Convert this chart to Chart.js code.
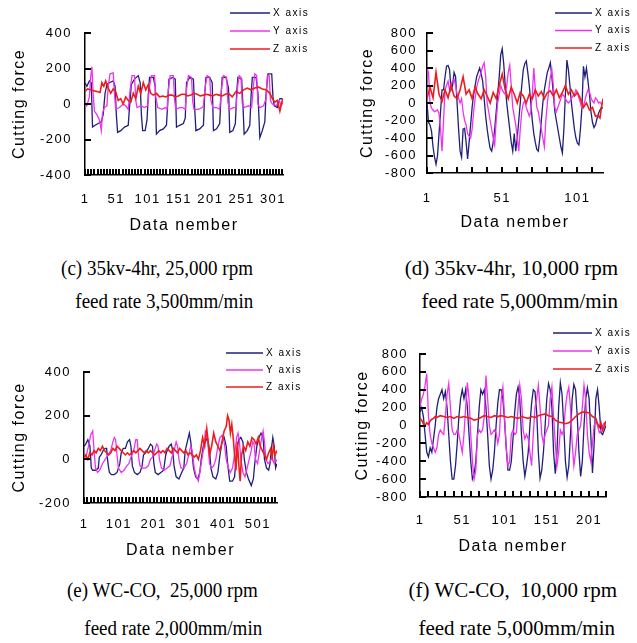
<!DOCTYPE html>
<html>
<head>
<meta charset="utf-8">
<script src="https://cdn.jsdelivr.net/npm/chart.js@4.4.0/dist/chart.umd.min.js"></script>
<style>
  body { margin: 0; background: #fff; width: 637px; height: 643px; position: relative; overflow: hidden; }
  canvas { position: absolute; }
  .cap { position: absolute; font-family: "Liberation Serif", "Times New Roman", serif; font-size: 20px; line-height: 22px; color: #000; white-space: pre; transform-origin: right center; }
  .l { transform: scaleX(0.95); }
  .r { font-size: 21px; }
</style>
</head>
<body>
<canvas id="chart-c" width="318" height="240" style="left:0;top:0"></canvas>
<canvas id="chart-d" width="319" height="240" style="left:318px;top:0"></canvas>
<canvas id="chart-e" width="318" height="250" style="left:0;top:320px"></canvas>
<canvas id="chart-f" width="319" height="250" style="left:318px;top:320px"></canvas>

<div class="cap l" style="right:384px;top:257px">(c) 35kv-4hr, 25,000 rpm</div>
<div class="cap l" style="right:384px;top:290px">feed rate 3,500mm/min</div>
<div class="cap r" style="right:19px;top:257px">(d) 35kv-4hr, 10,000 rpm</div>
<div class="cap r" style="right:19px;top:290px">feed rate 5,000mm/min</div>
<div class="cap l" style="right:379px;top:579px">(e) WC-CO,  25,000 rpm</div>
<div class="cap l" style="right:375px;top:617px">feed rate 2,000mm/min</div>
<div class="cap r" style="right:20px;top:579px">(f) WC-CO,  10,000 rpm</div>
<div class="cap r" style="right:22px;top:617px">feed rate 5,000mm/min</div>

<script>
// series labels
const SERIES = ['X axis', 'Y axis', 'Z axis'];

// (c) 35kv-4hr, 25,000 rpm  -- [data number, cutting force]
const C_N = 317;
const C_XLABELS = [1, 51, 101, 151, 201, 251, 301];
const C_X = [[1,120],[4,100],[8,130],[11,120],[13,-130],[17,-120],[22,-110],[27,-100],[30,-60],[33,60],[36,110],[40,120],[46,130],[49,100],[51,-60],[53,-160],[58,-150],[64,-130],[70,-120],[72,-20],[75,110],[80,140],[86,160],[89,120],[91,-60],[93,-150],[97,-150],[100,-90],[102,50],[104,150],[110,150],[113,100],[115,-170],[120,-150],[126,-140],[131,-120],[133,0],[135,140],[141,150],[145,140],[147,-130],[152,-120],[158,-110],[161,-80],[163,120],[168,150],[174,140],[176,-20],[178,-150],[184,-140],[190,-120],[192,50],[194,150],[200,150],[204,120],[206,-150],[211,-140],[216,-110],[218,40],[220,150],[226,150],[230,90],[232,-160],[237,-150],[241,-110],[243,60],[245,150],[251,140],[253,0],[255,-170],[260,-150],[264,-120],[266,40],[268,150],[274,150],[277,60],[280,-190],[284,-150],[288,-100],[290,60],[293,170],[299,170],[301,40],[303,-10],[308,-20],[312,30],[315,30],[317,20]];
const C_Y = [[1,-20],[4,-10],[8,40],[10,150],[12,210],[14,60],[16,-40],[20,-60],[24,-90],[27,-150],[29,-50],[32,-20],[36,-10],[38,100],[41,170],[46,175],[48,60],[50,-30],[56,-20],[62,0],[66,-10],[70,-30],[73,80],[76,160],[80,160],[82,20],[84,-20],[90,-10],[96,-20],[101,-10],[104,100],[107,160],[112,160],[114,40],[117,-20],[124,-30],[129,-20],[132,-30],[134,80],[137,160],[142,160],[144,20],[146,-30],[152,-20],[157,-20],[161,-30],[163,80],[166,160],[171,150],[173,10],[175,-30],[182,-30],[188,-20],[190,-10],[193,100],[196,160],[200,150],[202,20],[205,-20],[211,-20],[216,-30],[219,90],[222,160],[227,150],[229,10],[232,-30],[238,-20],[242,-20],[245,110],[247,160],[250,150],[252,0],[255,-20],[262,-10],[267,-20],[270,110],[272,170],[275,160],[277,0],[280,-20],[286,-10],[290,30],[292,160],[295,160],[297,20],[300,0],[306,-10],[311,20],[314,-10],[317,10]];
const C_Z = [[1,70],[5,85],[10,80],[15,75],[20,70],[25,65],[28,120],[31,100],[34,130],[38,90],[42,60],[46,85],[50,70],[54,20],[58,30],[62,0],[66,40],[70,20],[74,10],[78,60],[82,30],[86,100],[90,60],[94,120],[98,80],[102,110],[106,60],[110,50],[115,60],[120,40],[125,45],[130,40],[135,50],[140,50],[145,40],[150,45],[155,55],[160,55],[165,45],[170,50],[175,60],[180,55],[185,45],[190,50],[195,55],[200,50],[205,45],[210,55],[215,50],[220,45],[225,55],[230,60],[236,40],[242,70],[248,60],[254,80],[260,90],[266,80],[272,90],[278,95],[284,85],[290,80],[296,60],[300,30],[304,10],[308,20],[312,-40],[315,10],[317,30]];

// (d) 35kv-4hr, 10,000 rpm
const D_N = 118;
const D_XLABELS = [1, 51, 101];
const D_X = [[1,0],[2,-220],[3,-250],[4,-320],[5,-500],[6,-620],[7,-700],[8,-600],[9,-350],[10,-100],[11,150],[12,150],[13,300],[14,420],[15,430],[16,380],[17,150],[18,200],[19,350],[20,300],[21,0],[22,-300],[23,-550],[24,-620],[25,-300],[26,-290],[27,-450],[28,-640],[29,-450],[30,-250],[31,-50],[32,100],[33,200],[34,300],[35,350],[36,400],[37,330],[38,250],[39,50],[40,-150],[41,-300],[42,-420],[43,-520],[44,-550],[45,-450],[46,-300],[47,-100],[48,100],[49,300],[50,550],[51,620],[52,450],[53,200],[54,0],[55,-150],[56,-300],[57,-450],[58,-550],[59,-350],[60,-550],[61,-400],[62,-200],[63,0],[64,200],[65,380],[66,450],[67,480],[68,350],[69,200],[70,0],[71,-200],[72,-350],[73,-450],[74,-530],[75,-550],[76,-400],[77,-200],[78,0],[79,150],[80,250],[81,350],[82,400],[83,460],[84,300],[85,100],[86,-100],[87,-200],[88,-300],[89,-400],[90,-500],[91,-570],[92,-300],[93,100],[94,490],[95,380],[96,200],[97,0],[98,-150],[99,-300],[100,-400],[101,-460],[102,-480],[103,-300],[104,-50],[105,420],[106,300],[107,400],[108,250],[109,100],[110,-100],[111,-220],[112,-280],[113,-250],[114,-180],[115,-120],[116,-80],[117,-50],[118,-60]];
const D_Y = [[1,400],[2,350],[3,0],[4,-60],[5,-80],[6,-100],[7,-90],[8,-80],[9,-120],[10,-300],[11,-550],[12,-200],[13,150],[14,200],[15,250],[16,150],[17,220],[18,250],[19,270],[20,200],[21,100],[22,50],[23,0],[24,50],[25,-100],[26,-200],[27,-250],[28,-350],[29,-380],[30,-400],[31,-300],[32,-100],[33,50],[34,180],[35,250],[36,300],[37,350],[38,420],[39,460],[40,300],[41,0],[42,-100],[43,-200],[44,-300],[45,-400],[46,-480],[47,-200],[48,0],[49,100],[50,200],[51,150],[52,120],[53,100],[54,200],[55,350],[56,430],[57,200],[58,-50],[59,-150],[60,-250],[61,-400],[62,-550],[63,-300],[64,-100],[65,0],[66,20],[67,-50],[68,-100],[69,-150],[70,-100],[71,100],[72,400],[73,150],[74,-50],[75,-100],[76,-200],[77,-300],[78,-400],[79,-500],[80,-200],[81,0],[82,150],[83,300],[84,380],[85,200],[86,-50],[87,-100],[88,-50],[89,0],[90,50],[91,100],[92,80],[93,50],[94,20],[95,0],[96,20],[97,50],[98,80],[99,100],[100,150],[101,120],[102,60],[103,0],[104,-60],[105,-40],[106,30],[107,100],[108,150],[109,130],[110,60],[111,20],[112,0],[113,60],[114,40],[115,0],[116,10],[117,-10],[118,0]];
const D_Z = [[1,50],[3,180],[5,60],[7,350],[9,100],[11,20],[13,150],[15,60],[17,200],[19,80],[21,50],[23,150],[25,300],[27,100],[29,150],[31,50],[33,180],[35,100],[37,50],[39,150],[41,80],[43,0],[45,120],[47,50],[49,200],[51,330],[53,150],[55,50],[57,180],[59,100],[61,0],[63,120],[65,80],[67,0],[69,100],[71,50],[73,150],[75,80],[77,130],[79,50],[81,120],[83,140],[85,80],[87,150],[89,60],[91,120],[93,200],[95,100],[97,150],[99,80],[101,120],[103,50],[105,-50],[107,0],[109,-80],[111,-50],[113,-150],[115,-150],[116,-170],[117,-50],[118,50]];

// (e) WC-CO, 25,000 rpm
const E_N = 556;
const E_XLABELS = [1, 101, 201, 301, 401, 501];
const E_X = [[1,60],[6,70],[12,90],[18,60],[22,-40],[26,-50],[35,-50],[42,-40],[45,10],[50,20],[56,40],[62,50],[66,50],[70,-20],[74,-60],[80,-70],[88,-70],[96,-60],[104,-20],[108,30],[114,50],[120,50],[126,80],[132,90],[136,60],[140,-30],[146,-60],[154,-70],[162,-60],[168,-30],[172,20],[178,30],[186,50],[192,70],[198,60],[202,-20],[206,-60],[214,-70],[222,-60],[230,-50],[236,20],[240,40],[246,60],[252,70],[256,40],[260,-30],[266,-80],[274,-90],[282,-60],[288,-40],[292,40],[298,80],[304,120],[308,80],[312,20],[316,-40],[322,-80],[328,-90],[334,-60],[338,0],[344,60],[350,80],[356,100],[362,40],[366,-40],[372,-80],[380,-90],[386,-60],[392,20],[398,80],[404,100],[410,60],[414,-20],[420,-100],[428,-100],[434,-80],[440,40],[446,90],[452,100],[458,80],[462,0],[468,-60],[474,-90],[482,-120],[488,-90],[492,-20],[498,60],[504,100],[510,120],[516,100],[520,0],[526,-40],[532,-50],[536,-20],[540,50],[544,100],[548,60],[552,-40],[556,-20]];
const E_Y = [[1,0],[8,20],[14,60],[20,110],[26,130],[30,40],[34,-40],[40,-60],[46,-50],[54,-20],[62,0],[70,20],[78,40],[84,80],[88,100],[92,90],[96,20],[100,-40],[108,-60],[116,-50],[124,-30],[130,-20],[136,10],[144,40],[150,90],[154,90],[158,10],[162,-30],[170,-40],[178,-40],[186,-30],[192,0],[198,10],[204,40],[210,70],[214,60],[218,0],[224,-40],[232,-50],[240,-40],[248,-30],[254,10],[260,40],[266,80],[270,60],[274,0],[280,-40],[288,-40],[296,-20],[302,20],[308,60],[312,40],[318,-40],[324,-80],[330,-100],[334,-60],[340,0],[346,60],[350,130],[354,120],[358,60],[362,-20],[368,-40],[374,-30],[380,0],[386,60],[392,100],[398,110],[404,80],[410,0],[416,-40],[422,-60],[428,-40],[434,20],[440,100],[444,120],[448,80],[452,0],[458,-60],[464,-80],[470,-40],[476,0],[482,40],[486,80],[490,70],[494,0],[500,-20],[506,40],[512,100],[516,130],[520,80],[524,0],[530,-20],[536,-10],[542,10],[548,-20],[552,0],[556,-10]];
const E_Z = [[1,10],[6,20],[12,0],[18,30],[24,20],[30,40],[36,30],[42,50],[48,40],[54,60],[60,40],[66,30],[72,20],[78,30],[84,50],[90,40],[96,60],[102,50],[108,40],[114,30],[120,20],[126,30],[132,20],[138,30],[144,40],[150,30],[156,40],[162,50],[168,40],[174,30],[180,40],[186,30],[192,40],[198,30],[204,20],[210,30],[216,40],[222,30],[228,40],[234,30],[240,50],[246,40],[252,30],[258,50],[264,40],[270,30],[276,50],[282,40],[288,30],[294,40],[300,20],[306,30],[312,20],[318,10],[324,20],[330,0],[336,40],[342,100],[348,60],[354,140],[358,80],[362,20],[368,60],[374,120],[380,80],[386,60],[392,40],[398,80],[404,130],[410,150],[414,200],[418,180],[422,120],[426,160],[430,100],[434,20],[438,-50],[442,80],[446,-20],[450,-100],[454,20],[460,60],[466,40],[472,80],[478,60],[484,100],[490,90],[496,70],[502,100],[508,60],[514,40],[520,20],[526,0],[532,30],[538,50],[542,10],[546,60],[550,20],[556,40]];

// (f) WC-CO, 10,000 rpm
const F_N = 221;
const F_XLABELS = [1, 51, 101, 151, 201];
const F_X = [[1,150],[3,200],[5,100],[7,-100],[9,-300],[11,-350],[13,-250],[15,-300],[17,-150],[19,0],[21,200],[23,300],[25,350],[27,400],[29,300],[31,380],[33,200],[35,-100],[37,-400],[39,-600],[41,-600],[43,-450],[45,-200],[47,100],[49,300],[51,400],[53,300],[55,400],[57,200],[59,-100],[61,-400],[63,-600],[65,-550],[67,-400],[69,-100],[71,200],[73,400],[75,350],[77,400],[79,200],[81,-100],[83,-450],[85,-600],[87,-500],[89,-300],[91,0],[93,250],[95,400],[97,400],[99,300],[101,50],[103,-250],[105,-500],[107,-500],[109,-400],[111,-150],[113,150],[115,350],[117,430],[119,300],[121,-100],[123,-400],[125,-570],[127,-450],[129,-300],[131,0],[133,250],[135,400],[137,380],[139,150],[141,-300],[143,-590],[145,-500],[147,-300],[149,0],[151,300],[153,470],[155,400],[157,200],[159,-300],[161,-540],[163,-300],[165,200],[167,480],[169,350],[171,0],[173,-400],[175,-580],[177,-450],[179,-100],[181,300],[183,460],[185,400],[187,100],[189,-300],[191,-570],[193,-400],[195,0],[197,300],[199,420],[201,300],[203,-100],[205,-530],[207,-200],[209,300],[211,400],[213,200],[215,-80],[217,-100],[219,-50],[221,0]];
const F_Y = [[1,200],[3,300],[5,350],[7,450],[9,580],[11,100],[13,-100],[15,-200],[17,-250],[19,-300],[21,-250],[23,-100],[25,-50],[27,-80],[29,-100],[31,100],[33,350],[35,470],[37,200],[39,-50],[41,-100],[43,-100],[45,-50],[47,-100],[49,-200],[51,-300],[53,-100],[55,200],[57,480],[59,300],[61,-100],[63,-400],[65,-600],[67,-500],[69,-100],[71,-50],[73,-80],[75,-50],[77,100],[79,560],[81,300],[83,0],[85,-100],[87,-80],[89,-50],[91,-80],[93,-200],[95,-100],[97,300],[99,430],[101,100],[103,-250],[105,-450],[107,-400],[109,-100],[111,-50],[113,-100],[115,-80],[117,200],[119,450],[121,300],[123,-50],[125,-150],[127,-100],[129,-150],[131,-300],[133,-450],[135,-100],[137,200],[139,300],[141,450],[143,200],[145,-100],[147,-200],[149,-100],[151,-50],[153,0],[155,300],[157,430],[159,100],[161,-200],[163,-450],[165,-300],[167,-50],[169,-100],[171,-50],[173,200],[175,350],[177,430],[179,200],[181,-200],[183,-450],[185,-300],[187,-100],[189,-50],[191,0],[193,200],[195,450],[197,300],[199,-100],[201,-300],[203,-400],[205,-200],[207,0],[209,50],[211,0],[213,-80],[215,-50],[217,0],[219,30],[221,10]];
const F_Z = [[1,80],[3,60],[5,20],[7,0],[9,30],[11,10],[13,50],[15,70],[17,80],[19,100],[21,90],[25,110],[29,100],[33,90],[37,100],[41,80],[45,100],[49,90],[53,100],[57,90],[61,80],[65,60],[69,70],[73,90],[77,110],[81,100],[85,90],[89,110],[93,100],[97,110],[101,100],[105,90],[109,100],[113,90],[117,80],[121,100],[125,90],[129,80],[133,100],[137,90],[141,110],[145,120],[149,130],[153,110],[157,100],[161,60],[165,40],[169,30],[173,20],[177,30],[181,60],[185,100],[189,130],[193,150],[197,150],[201,140],[205,100],[209,80],[211,20],[213,-20],[215,30],[217,-50],[219,0],[221,50]];

const COLORS = ['#1f1f7a', '#f032f0', '#ee1c1c'];
const FONT = '"Liberation Sans", Arial, sans-serif';

// Excel-ish wide lettering for all chart text
const spacing = {
    id: 'spacing',
    beforeDraw(chart) { chart.ctx.letterSpacing = '1.5px'; }
};

// stacked legend in the top right corner, plus the inward axis tick marks
const stackLegend = {
    id: 'stackLegend',
    afterDraw(chart, args, o) {
        const c = chart.ctx;
        const a = chart.chartArea;
        const xs = chart.scales.x, ys = chart.scales.y;
        c.save();
        c.fillStyle = '#000';
        for (const t of xs.ticks) {
            const px = Math.round(xs.getPixelForValue(t.value));
            c.fillRect(px - 1, a.bottom - 6, 2, 6);
        }
        for (const t of ys.ticks) {
            const py = Math.round(ys.getPixelForValue(t.value));
            c.fillRect(a.left, py - 1, 6, 2);
        }
        c.font = '10px ' + FONT;
        c.letterSpacing = '1.5px';
        c.textBaseline = 'middle';
        chart.data.datasets.forEach((ds, i) => {
            const y = o.y + i * o.gap;
            c.strokeStyle = ds.borderColor;
            c.lineWidth = 1.5;
            c.beginPath();
            c.moveTo(o.x1, y);
            c.lineTo(o.x2, y);
            c.stroke();
            c.fillText(ds.label, o.x2 + 3, y);
        });
        c.restore();
    }
};

function makeChart(id, series, p) {
    const marks = [];
    for (let v = 1; v <= p.n; v += p.step) marks.push(v);

    const datasets = series.map((pts, i) => ({
        label: SERIES[i],
        data: pts.map(([x, y]) => ({ x, y })),
        borderColor: COLORS[i],
        borderWidth: i === 2 ? 1.6 : 1.3,
        order: 3 - i
    }));

    return new Chart(document.getElementById(id).getContext('2d'), {
        type: 'line',
        data: { datasets },
        options: {
            responsive: false,
            animation: false,
            events: [],
            elements: { point: { radius: 0 }, line: { tension: 0 } },
            layout: { padding: { top: p.top, right: p.right, left: 0, bottom: 0 } },
            plugins: { legend: { display: false }, tooltip: { enabled: false }, stackLegend: p.legend },
            scales: {
                x: {
                    type: 'linear', min: 1, max: p.n,
                    afterBuildTicks: s => { s.ticks = marks.map(v => ({ value: v })); },
                    afterFit: s => { s.height = p.xh; },
                    ticks: {
                        autoSkip: false, maxRotation: 0, padding: p.xpad, color: '#000',
                        font: { family: FONT, size: 13 },
                        callback: v => p.labels.includes(v) ? String(v) : ''
                    },
                    grid: { display: false, drawTicks: false },
                    border: { color: '#000', width: 1.5 },
                    title: { display: true, text: 'Data nember', color: '#000',
                             font: { family: FONT, size: 16 }, padding: { bottom: p.xtitle } }
                },
                y: {
                    min: p.ymin, max: p.ymax,
                    afterFit: s => { s.width = p.yw; },
                    ticks: { stepSize: 200, autoSkip: false, padding: p.ypad, color: '#000',
                             font: { family: FONT, size: 13 } },
                    grid: { display: false, drawTicks: false },
                    border: { color: '#000', width: 1.5 },
                    title: { display: true, text: 'Cutting force', color: '#000',
                             font: { family: FONT, size: 16 }, padding: { top: p.ytitle } }
                }
            }
        },
        plugins: [spacing, stackLegend]
    });
}

makeChart('chart-c', [C_X, C_Y, C_Z], {
    n: C_N, step: 5, labels: C_XLABELS, ymin: -400, ymax: 400,
    top: 33, right: 35, yw: 85, xh: 65, xpad: 17, ypad: 13, xtitle: 5, ytitle: 10,
    legend: { x1: 230, x2: 270, y: 13, gap: 18 }
});
makeChart('chart-d', [D_X, D_Y, D_Z], {
    n: D_N, step: 10, labels: D_XLABELS, ymin: -800, ymax: 800,
    top: 33, right: 34, yw: 109, xh: 67, xpad: 18, ypad: 10, xtitle: 8, ytitle: 40,
    legend: { x1: 237, x2: 274, y: 13, gap: 17.5 }
});
makeChart('chart-e', [E_X, E_Y, E_Z], {
    n: E_N, step: 10, labels: E_XLABELS, ymin: -200, ymax: 400,
    top: 52, right: 41, yw: 84, xh: 67, xpad: 14, ypad: 13, xtitle: 10, ytitle: 10,
    legend: { x1: 226, x2: 263, y: 33, gap: 17 }
});
makeChart('chart-f', [F_X, F_Y, F_Z], {
    n: F_N, step: 10, labels: F_XLABELS, ymin: -800, ymax: 800,
    top: 34, right: 31, yw: 102, xh: 73, xpad: 16, ypad: 12, xtitle: 14, ytitle: 35,
    legend: { x1: 235, x2: 274, y: 13, gap: 18 }
});
</script>
</body>
</html>
